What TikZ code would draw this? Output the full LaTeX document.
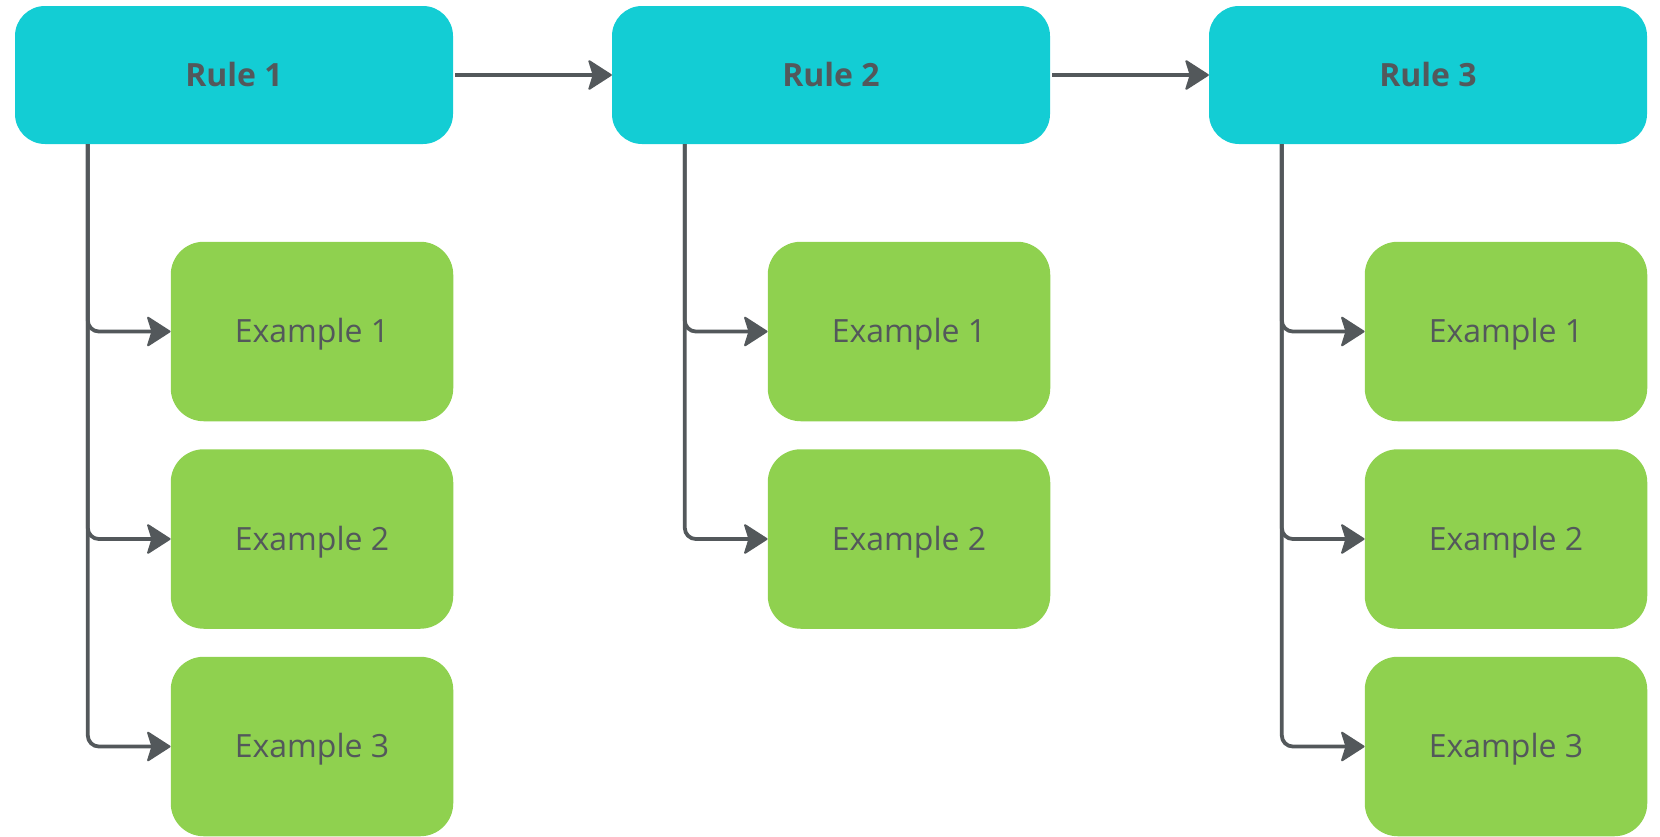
\documentclass[tikz,border=0pt]{standalone}
\usepackage{fontspec}
\setmainfont{Open Sans}
\usetikzlibrary{arrows.meta}
\definecolor{rulecyan}{HTML}{13CDD4}
\definecolor{exgreen}{HTML}{8FD14F}
\definecolor{inkgray}{HTML}{53585B}
\tikzset{
  rulebox/.style={fill=rulecyan, draw=none, rounded corners=30pt,
    minimum width=438pt, minimum height=138pt, inner sep=0pt,
    text height=22.5pt, text depth=0pt,
    text=inkgray, font=\fontsize{32}{38}\selectfont\bfseries},
  exbox/.style={fill=exgreen, draw=none, rounded corners=33pt,
    minimum width=282.5pt, minimum height=179.5pt, inner sep=0pt,
    text height=22.5pt, text depth=0pt,
    text=inkgray, font=\fontsize{32}{38}\selectfont},
  conn/.style={draw=inkgray, line width=3.8pt,
    -{Stealth[length=25pt, width=32pt, inset=5pt, line width=2pt, round, fill=inkgray]}},
  branch/.style={conn, rounded corners=11pt},
}
\begin{document}
\begin{tikzpicture}[x=1pt, y=-1pt]
\useasboundingbox (0,0) rectangle (1660,836);

% rule row
\node[rulebox] (r1) at (234,75) {Rule 1};
\node[rulebox] (r2) at (831,75) {Rule 2};
\node[rulebox] (r3) at (1428,75) {Rule 3};

% examples under each rule
\node[exbox] (e11) at (312,331.5) {Example 1};
\node[exbox] (e12) at (312,539)   {Example 2};
\node[exbox] (e13) at (312,746.5) {Example 3};

\node[exbox] (e21) at (909,331.5) {Example 1};
\node[exbox] (e22) at (909,539)   {Example 2};

\node[exbox] (e31) at (1506,331.5) {Example 1};
\node[exbox] (e32) at (1506,539)   {Example 2};
\node[exbox] (e33) at (1506,746.5) {Example 3};

% links between rules
\draw[conn, shorten <=2pt] (r1.east) -- (r2.west);
\draw[conn, shorten <=2pt] (r2.east) -- (r3.west);

% trunk lines down to the examples
\coordinate (t1) at ([xshift=73pt]r1.south west);
\coordinate (t2) at ([xshift=73pt]r2.south west);
\coordinate (t3) at ([xshift=73pt]r3.south west);

\draw[branch] (t1) |- (e11.west);
\draw[branch] (t1) |- (e12.west);
\draw[branch] (t1) |- (e13.west);

\draw[branch] (t2) |- (e21.west);
\draw[branch] (t2) |- (e22.west);

\draw[branch] (t3) |- (e31.west);
\draw[branch] (t3) |- (e32.west);
\draw[branch] (t3) |- (e33.west);
\end{tikzpicture}
\end{document}
